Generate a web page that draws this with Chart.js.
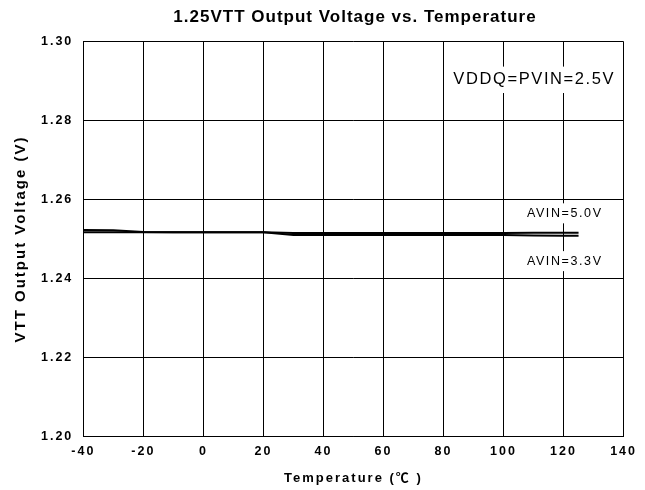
<!DOCTYPE html>
<html>
<head>
<meta charset="utf-8">
<script src="https://cdn.jsdelivr.net/npm/chart.js@4"></script>
<style>
  html, body { margin: 0; padding: 0; background: #fff; }
</style>
</head>
<body>
<canvas id="vttChart" width="645" height="490"></canvas>
<script>
// data
const temps = [-40, -30, -20, -10, 0, 10, 20, 30, 40, 50, 60, 70, 80, 90, 100, 110, 120, 125];
const avin50 = [1.2523, 1.2522, 1.2518, 1.2517, 1.2517, 1.2517, 1.2517, 1.2515, 1.2515, 1.2515, 1.2515, 1.2515, 1.2515, 1.2515, 1.2515, 1.2516, 1.2516, 1.2516];
const avin33 = [1.2517, 1.2517, 1.2517, 1.2517, 1.2517, 1.2517, 1.2517, 1.2510, 1.2510, 1.2510, 1.2510, 1.2510, 1.2510, 1.2510, 1.2510, 1.2509, 1.2508, 1.2508];
const xTicks = [-40, -20, 0, 20, 40, 60, 80, 100, 120, 140];
const yTicks = [1.20, 1.22, 1.24, 1.26, 1.28, 1.30];
const chartTitle = "1.25VTT Output Voltage vs. Temperature";

// text labels inside the plot: [text, x, y, font size, align]
const notes = [
    ["VDDQ=PVIN=2.5V", 137.2, 1.2903, 16.5, "right"],
    ["AVIN=5.0V", 120.4, 1.2565, 12.5, "center"],
    ["AVIN=3.3V", 120.4, 1.2444, 12.5, "center"]
];

const FONT = "'Liberation Sans', Arial, 'Noto Sans CJK SC', sans-serif";

function toPoints(ys) {
    return temps.map((t, i) => ({ x: t, y: ys[i] }));
}

// the reference text is rendered with wide letter spacing
const spacingPlugin = {
    id: "spacing",
    beforeUpdate(chart) { chart.ctx.letterSpacing = "2px"; },
    beforeDraw(chart) { chart.ctx.letterSpacing = "2px"; }
};

// title sits a bit right of the canvas centre, so draw it here
const titlePlugin = {
    id: "topTitle",
    afterDraw(chart) {
        const ctx = chart.ctx;
        ctx.save();
        ctx.letterSpacing = "1px";
        ctx.font = "bold 17px " + FONT;
        ctx.fillStyle = "#000";
        ctx.textAlign = "center";
        ctx.textBaseline = "middle";
        ctx.fillText(chartTitle, 355, 17);
        ctx.restore();
    }
};

const notesPlugin = {
    id: "notes",
    beforeDatasetsDraw(chart) {
        const ctx = chart.ctx;
        const xs = chart.scales.x, ys = chart.scales.y;
        ctx.save();
        ctx.letterSpacing = "1.6px";
        ctx.textBaseline = "middle";
        notes.forEach(([text, x, y, size, align]) => {
            ctx.font = size + "px " + FONT;
            const px = xs.getPixelForValue(x);
            const py = ys.getPixelForValue(y);
            const w = ctx.measureText(text).width;
            const left = align === "right" ? px - w : px - w / 2;
            ctx.fillStyle = "#fff";
            ctx.fillRect(left - 4, py - size * 0.8, w + 8, size * 1.6);
            ctx.fillStyle = "#000";
            ctx.textAlign = "left";
            ctx.fillText(text, left, py);
        });
        ctx.restore();
    }
};

const ctx = document.getElementById("vttChart").getContext("2d");
const vttChart = new Chart(ctx, {
    type: "scatter",
    data: {
        datasets: [
            { label: "AVIN=5.0V", data: toPoints(avin50) },
            { label: "AVIN=3.3V", data: toPoints(avin33) }
        ]
    },
    options: {
        responsive: false,
        animation: false,
        showLine: true,
        layout: { padding: { left: 0, right: 15.5, top: 41.5, bottom: 0 } },
        elements: {
            point: { radius: 0, hoverRadius: 0 },
            line: { borderColor: "#000", borderWidth: 2, tension: 0 }
        },
        plugins: {
            legend: { display: false },
            tooltip: { enabled: false },
            title: { display: false }
        },
        scales: {
            x: {
                type: "linear",
                min: -40,
                max: 140,
                afterBuildTicks: s => { s.ticks = xTicks.map(v => ({ value: v })); },
                afterFit: s => { s.height = 53.5; },
                grid: { color: "#000", lineWidth: 1, drawTicks: false },
                border: { color: "#000", width: 1 },
                ticks: {
                    color: "#000",
                    padding: 8,
                    maxRotation: 0,
                    font: { family: FONT, size: 12.5, weight: "bold" }
                },
                title: {
                    display: true,
                    text: "Temperature (℃ )",
                    color: "#000",
                    font: { family: FONT, size: 13, weight: "bold", lineHeight: 1.2 },
                    padding: { top: 0, bottom: 4.2 }
                }
            },
            y: {
                type: "linear",
                min: 1.20,
                max: 1.30,
                afterBuildTicks: s => { s.ticks = yTicks.map(v => ({ value: v })); },
                afterFit: s => { s.width = 83.3; },
                grid: { color: "#000", lineWidth: 1, drawTicks: false },
                border: { color: "#000", width: 1 },
                ticks: {
                    color: "#000",
                    padding: 10,
                    callback: v => v.toFixed(2),
                    font: { family: FONT, size: 12.5, weight: "bold" }
                },
                title: {
                    display: true,
                    text: "VTT Output Voltage (V)",
                    color: "#000",
                    font: { family: FONT, size: 15, weight: "bold", lineHeight: 1.2 },
                    padding: { top: 11.5, bottom: 0 }
                }
            }
        }
    },
    plugins: [spacingPlugin, titlePlugin, notesPlugin]
});
</script>
</body>
</html>
